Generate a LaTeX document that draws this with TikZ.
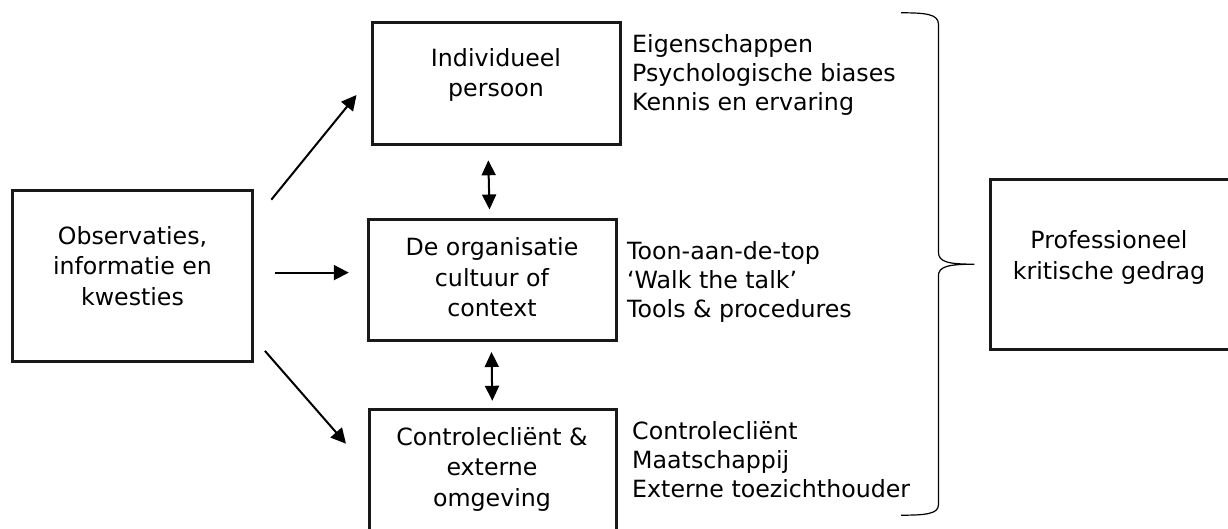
\documentclass[tikz,border=0pt]{standalone}
\usepackage{fontspec}
\setmainfont{DejaVu Sans}
\usetikzlibrary{arrows.meta}
\begin{document}
\begin{tikzpicture}[x=1pt,y=-1pt,
  box/.style={draw=black!90, line width=3pt, rectangle, inner sep=0pt},
  txt/.style={align=center, anchor=base, inner sep=0pt, font=\fontsize{23.7}{30.5}\selectfont},
  lst/.style={align=left, anchor=base west, inner sep=0pt, font=\fontsize{23.7}{29}\selectfont},
  arr/.style={line width=2pt, -{Triangle[length=15pt,width=15pt]}},
  darr/.style={line width=2pt, {Triangle[length=15pt,width=14pt]}-{Triangle[length=15pt,width=14pt]}},
  brace/.style={line width=1.2pt}
  ]
\useasboundingbox (0,0) rectangle (1228,529);
% boxes
\node[box, minimum width=240.4pt, minimum height=171.1pt] (obs) at (132.5,276.2) {};
\node[box, minimum width=247.9pt, minimum height=121.8pt] (ind) at (496.9,83.5) {};
\node[box, minimum width=247.5pt, minimum height=121.5pt] (org) at (492.3,280) {};
\node[box, minimum width=246.3pt, minimum height=136pt] (ctl) at (492.9,477) {};
\node[box, minimum width=249.5pt, minimum height=170pt] (prof) at (1115.25,264.85) {};
% box texts (anchor = baseline of last line)
\node[txt] (obsT) at (132.5,305) {Observaties,\\informatie en\\kwesties};
\node[txt] (indT) at (496,97) {Individueel\\persoon};
\node[txt] (orgT) at (492,316.5) {De organisatie\\cultuur of\\context};
\node[txt] (ctlT) at (492,506) {Controlecliënt \&\\externe\\omgeving};
\node[txt] (profT) at (1109,279.4) {Professioneel\\kritische gedrag};
% lists
\node[lst] (l1) at (632,110.7) {Eigenschappen\\Psychologische biases\\Kennis en ervaring};
\node[lst] (l2) at (627,317) {Toon-aan-de-top\\‘Walk the talk’\\Tools \& procedures};
\node[lst] (l3) at (632,497.6) {Controlecliënt\\Maatschappij\\Externe toezichthouder};
% arrow end points
\coordinate (a1s) at (271.3,199.7);
\coordinate (a1e) at (356.5,95);
\coordinate (a2s) at (274.8,272.6);
\coordinate (a2e) at (348.8,272.6);
\coordinate (a3s) at (264.9,350.9);
\coordinate (a3e) at (346,443.7);
\coordinate (d1s) at (488.3,160.3);
\coordinate (d1e) at (489.5,209.5);
\coordinate (d2s) at (491.5,352);
\coordinate (d2e) at (492.3,400.8);
\draw[arr] (a1s) -- (a1e);
\draw[arr] (a2s) -- (a2e);
\draw[arr] (a3s) -- (a3e);
\draw[darr] (d1s) -- (d1e);
\draw[darr] (d2s) -- (d2e);
% brace
\draw[brace] (901,12.8) .. controls (925,12.8) and (938.4,14) .. (938.4,24)
  -- (938.4,252) .. controls (938.4,262) and (948,264.2) .. (974.4,264.2)
  .. controls (948,264.2) and (938.4,266.5) .. (938.4,276)
  -- (938.4,505) .. controls (938.4,514) and (925,515.2) .. (901,515.2);
\end{tikzpicture}
\end{document}
